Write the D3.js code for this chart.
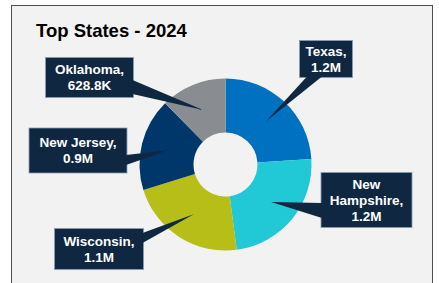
<!DOCTYPE html>
<html>
<head>
<meta charset="utf-8">
<script src="https://cdn.jsdelivr.net/npm/d3@7/dist/d3.min.js"></script>
<style>
    body { margin: 0; background: #fff; }
    svg { display: block; font-family: Arial, "Liberation Sans", sans-serif; }
</style>
</head>
<body>
<div id="chart"></div>
<script>
// data
var states = ["Texas", "New Hampshire", "Wisconsin", "New Jersey", "Oklahoma"];
var values = [1217000, 1213000, 1131000, 882000, 628800];
var valueLabels = ["1.2M", "1.2M", "1.1M", "0.9M", "628.8K"];
var colors = ["#0070C0", "#20C9D5", "#B6BE17", "#00376A", "#898C90"];

var width = 439,
    height = 283;

var cx = 225.5, cy = 164.5,
    outerR = 86, innerR = 32;

// callout boxes: x, y, w, h and which side the pointer leaves from
var boxes = [
    {x: 299.5, y: 40.5, w: 53, h: 37, side: "bottom", a: 307, b: 322},
    {x: 321, y: 172.5, w: 91, h: 55, side: "left", a: 203, b: 218},
    {x: 54.5, y: 228.5, w: 89, h: 41, side: "right", a: 233, b: 243},
    {x: 29, y: 128, w: 98, h: 45, side: "right", a: 155, b: 165},
    {x: 45.5, y: 57.5, w: 88, h: 40, side: "right", a: 80, b: 94}
];

var svg = d3.select("#chart").append("svg")
    .attr("width", width)
    .attr("height", height);

// panel
svg.append("rect")
    .attr("x", 11.5).attr("y", 5.5)
    .attr("width", 421).attr("height", 300)
    .attr("fill", "#F2F2F2")
    .attr("stroke", "#505050")
    .attr("stroke-width", 1);

svg.append("text")
    .attr("x", 36).attr("y", 37)
    .attr("font-size", "18.5px")
    .attr("font-weight", "bold")
    .attr("fill", "#000")
    .text("Top States - 2024");

var pie = d3.pie().sort(null).value(function(d) { return d; });
var arc = d3.arc().innerRadius(innerR).outerRadius(outerR);
var arcs = pie(values);

var g = svg.append("g").attr("transform", "translate(" + cx + "," + cy + ")");
g.selectAll("path.slice")
    .data(arcs)
    .enter().append("path")
    .attr("class", "slice")
    .attr("d", arc)
    .attr("fill", function(d, i) { return colors[i]; });

var boxFill = "#0F2741";

var labels = svg.selectAll("g.callout")
    .data(arcs)
    .enter().append("g")
    .attr("class", "callout");

labels.each(function(d, i) {
    var el = d3.select(this);
    var b = boxes[i];
    var c = arc.centroid(d);
    var tip = [cx + c[0], cy + c[1]];

    el.append("rect")
        .attr("x", b.x).attr("y", b.y)
        .attr("width", b.w).attr("height", b.h)
        .attr("fill", boxFill)
        .attr("stroke", "#8C9CB2")
        .attr("stroke-width", 0.8);

    var p1, p2;
    if (b.side == "bottom") {
        p1 = [b.a, b.y + b.h - 1]; p2 = [b.b, b.y + b.h - 1];
    } else if (b.side == "left") {
        p1 = [b.x + 1, b.a]; p2 = [b.x + 1, b.b];
    } else {
        p1 = [b.x + b.w - 1, b.a]; p2 = [b.x + b.w - 1, b.b];
    }
    el.append("path")
        .attr("d", "M" + p1 + "L" + tip + "L" + p2 + "Z")
        .attr("fill", boxFill);

    // wrap the name if it is too long for one line
    var first = states[i] + ",";
    var lines = [];
    if (first.length > 12) {
        var words = first.split(" ");
        lines.push(words[0]);
        lines.push(words.slice(1).join(" "));
    } else {
        lines.push(first);
    }
    lines.push(valueLabels[i]);

    var lh = 16;
    var midY = b.y + b.h / 2;
    var firstBase = midY - (lines.length - 1) * lh / 2 + 4.8;

    var t = el.append("text")
        .attr("text-anchor", "middle")
        .attr("font-size", "13.5px")
        .attr("font-weight", "bold")
        .attr("fill", "#fff");
    lines.forEach(function(line, k) {
        t.append("tspan")
            .attr("x", b.x + b.w / 2)
            .attr("y", firstBase + k * lh)
            .text(line);
    });
});
</script>
</body>
</html>
